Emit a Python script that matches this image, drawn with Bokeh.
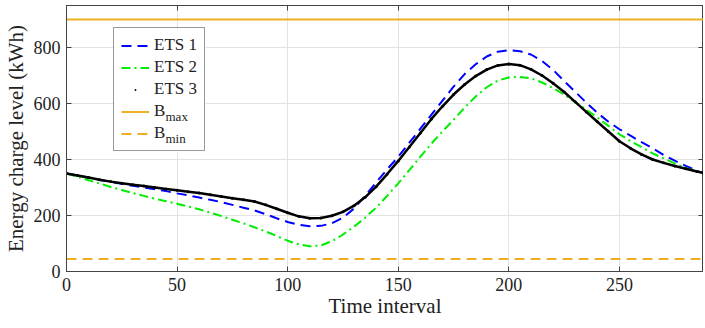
from bokeh.plotting import figure
from bokeh.models import Range1d, LinearAxis, FixedTicker, Legend, LegendItem, Label, BoxAnnotation
from bokeh.embed import file_html
from bokeh.resources import INLINE

t = [0, 5, 10, 15, 20, 25, 30, 35, 40, 45, 50, 55, 60, 65, 70, 75, 80, 85, 90, 95,
     100, 105, 110, 115, 120, 125, 130, 135, 140, 145, 150, 155, 160, 165, 170, 175,
     180, 185, 190, 195, 200, 205, 210, 215, 220, 225, 230, 235, 240, 245, 250, 255,
     260, 265, 270, 275, 280, 285, 288]
ets1 = [350, 343, 335, 327, 320, 313, 306, 300, 294, 287, 279, 272, 264, 256, 248, 238,
        228, 218, 205, 190, 177, 167, 162, 163, 172, 192, 225, 270, 318, 365, 410, 460,
        510, 560, 610, 660, 705, 740, 768, 785, 790, 787, 775, 752, 720, 680, 642, 603,
        567, 535, 508, 485, 462, 440, 416, 396, 377, 360, 350]
ets2 = [350, 338, 326, 314, 302, 291, 280, 270, 260, 251, 242, 232, 222, 210, 198, 185,
        172, 158, 143, 127, 110, 97, 90, 93, 108, 132, 160, 192, 228, 270, 315, 362,
        410, 457, 500, 542, 585, 625, 658, 682, 693, 695, 690, 675, 655, 632, 605, 578,
        550, 520, 490, 466, 444, 422, 404, 386, 370, 357, 350]
ets3 = [350, 343, 336, 328, 321, 315, 310, 305, 300, 295, 290, 285, 280, 274, 268, 262,
        256, 250, 238, 224, 210, 197, 190, 191, 199, 213, 235, 265, 303, 348, 395, 445,
        495, 545, 590, 632, 668, 698, 721, 736, 741, 737, 722, 700, 672, 641, 606, 570,
        535, 500, 465, 440, 418, 400, 388, 377, 367, 357, 352]
b_max = 900
b_min = 45
x_ticks = [0, 50, 100, 150, 200, 250]
y_ticks = [0, 200, 400, 600, 800]
legend_labels = ["ETS 1", "ETS 2", "ETS 3", "B", "B"]
subscripts = ["max", "min"]

FONT = "Liberation Serif"
ORANGE = "#EDB120"
AX = "#444444"
TXT = "#222222"

p = figure(width=703, height=320, output_backend="svg", toolbar_location=None,
           x_range=Range1d(0, 288), y_range=Range1d(0, 950),
           min_border_left=56, min_border_right=0, min_border_top=5, min_border_bottom=48)
p.outline_line_color = AX
p.outline_line_width = 1

p.xaxis.ticker = FixedTicker(ticks=x_ticks)
p.yaxis.ticker = FixedTicker(ticks=y_ticks)
p.xaxis.axis_label = "Time interval"
p.yaxis.axis_label = "Energy charge level (kWh)"
for ax in (p.xaxis[0], p.yaxis[0]):
    ax.axis_label_text_font = FONT
    ax.axis_label_text_font_style = "normal"
    ax.axis_label_text_font_size = "21px"
    ax.axis_label_text_color = TXT
    ax.major_label_text_font = FONT
    ax.major_label_text_font_size = "18px"
    ax.major_label_text_color = TXT
    ax.major_tick_in = 5
    ax.major_tick_out = 0
    ax.minor_tick_line_color = None
    ax.axis_line_color = AX
    ax.major_tick_line_color = AX
p.xaxis.axis_label_standoff = 0
p.yaxis.axis_label_standoff = 3
p.xaxis.major_label_standoff = 6
p.yaxis.major_label_standoff = 6

for loc, tk in (("right", y_ticks), ("above", x_ticks)):
    a = LinearAxis(ticker=FixedTicker(ticks=tk), major_label_text_font_size="1px",
                   major_label_text_color=None, major_label_standoff=0,
                   major_tick_in=5, major_tick_out=0,
                   minor_tick_line_color=None, axis_line_color=AX, major_tick_line_color=AX)
    p.add_layout(a, loc)

p.xgrid.grid_line_color = "#e3e3e3"
p.ygrid.grid_line_color = "#e3e3e3"

# legend geometry (screen units from the frame's bottom-left corner)
LX, LY, LW, LH = 47, 120, 92, 122
p.add_layout(BoxAnnotation(left=LX, right=LX + LW, bottom=LY, top=LY + LH,
                           left_units="screen", right_units="screen",
                           bottom_units="screen", top_units="screen",
                           fill_color="white", fill_alpha=1, line_color=None,
                           level="underlay"))

r_max = p.line([t[0], t[-1]], [b_max, b_max], line_color=ORANGE, line_width=2)
r_min = p.line([t[0], t[-1]], [b_min, b_min], line_color=ORANGE, line_width=2, line_dash="10 6")
r1 = p.line(t, ets1, line_color="#0000ff", line_width=2, line_dash="10 6")
r2 = p.line(t, ets2, line_color="#00ee00", line_width=2, line_dash="9 4 2 4")
r3l = p.line(t, ets3, line_color="black", line_width=2.5)
r3 = p.scatter(t, ets3, marker="dot", size=12, color="black")

legend = Legend(items=[LegendItem(label=lab, renderers=[r])
                       for lab, r in zip(legend_labels, [r1, r2, r3, r_max, r_min])],
                location=(LX, LY),
                label_text_font=FONT, label_text_font_size="17px", label_text_color=TXT,
                glyph_width=28, glyph_height=19, label_height=19, spacing=2,
                padding=7, margin=0, label_standoff=5,
                border_line_color="#333333", background_fill_alpha=0)
p.add_layout(legend, "center")

for txt, dy in zip(subscripts, (35, 13)):
    p.add_layout(Label(x=LX + 52, y=LY + dy, x_units="screen", y_units="screen",
                       text=txt, text_font=FONT, text_font_size="13px", text_color=TXT,
                       text_baseline="alphabetic"))

open("out.html", "w").write(file_html(p, INLINE))
